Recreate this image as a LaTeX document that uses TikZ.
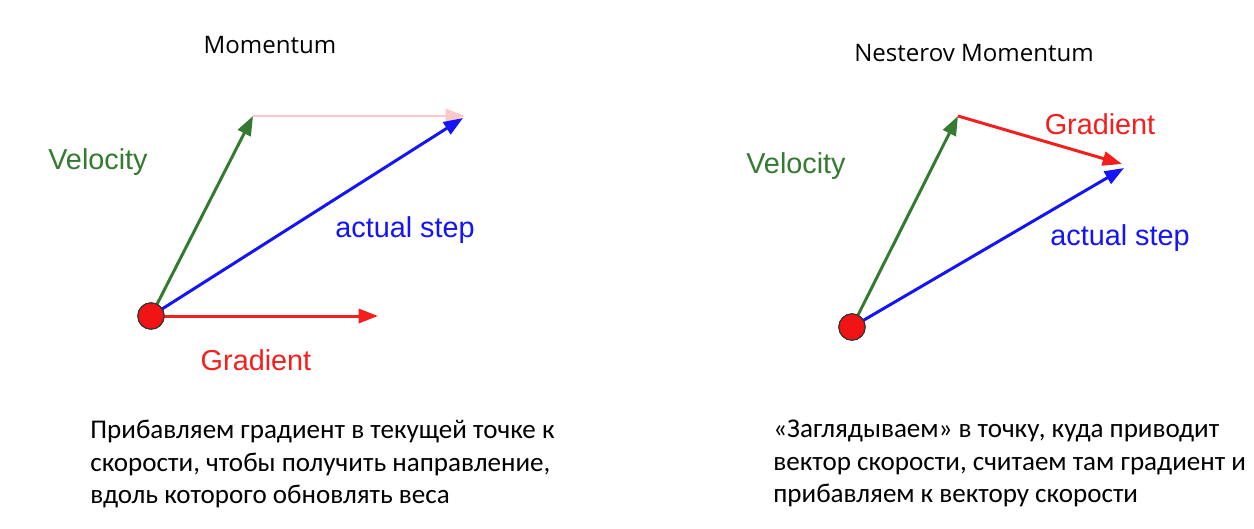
\documentclass[tikz,border=0pt]{standalone}
\usepackage{fontspec}
\setmainfont{Carlito}
\newfontfamily\labelfont{Liberation Sans}
\newfontfamily\titlefont{Open Sans}
\usetikzlibrary{arrows.meta}
\definecolor{vgreen}{RGB}{52,122,48}
\definecolor{vred}{RGB}{245,30,30}
\definecolor{vblue}{RGB}{20,20,245}
\definecolor{vpink}{RGB}{250,200,200}
\definecolor{dotred}{RGB}{240,20,20}
\tikzset{
  vec/.style={line width=1.7pt, -{Triangle[length=11pt,width=8pt]}},
  dot/.style={circle, fill=dotred, draw=black!80, line width=0.6pt, minimum size=15pt, inner sep=0pt},
  lbl/.style={font=\labelfont\fontsize{16.4}{19}\selectfont, inner sep=0pt},
  ttl/.style={font=\titlefont\fontsize{13.7}{16}\selectfont, inner sep=0pt},
  para/.style={font=\fontsize{15.4}{18.4}\selectfont, align=left, anchor=north west, inner sep=0pt},
}
\begin{document}
\begin{tikzpicture}[x=0.02cm, y=-0.02cm]
\useasboundingbox (0,0) rectangle (1254,528);
% left diagram
\node[ttl] (t1) at (270,45) {Momentum};
\coordinate (vtip) at (253,116);
\coordinate (ptip) at (465,116);
\coordinate (btip) at (463,118);
\coordinate (gtip) at (378,316);
\node[dot] (d1) at (151,316) {};
\draw[vec, vpink] (vtip) -- (ptip);
\draw[vec, vgreen] (d1.center) -- (vtip);
\draw[vec, vblue] (d1.center) -- (btip);
\draw[vec, vred] (d1.center) -- (gtip);
\node[dot] at (d1.center) {};
\node[lbl, text=vgreen] (l1) at (98,162) {Velocity};
\node[lbl, text=vblue] (l2) at (405,230) {actual step};
\node[lbl, text=vred] (l3) at (256,360) {Gradient};
\node[para] (p1) at (90,420) {Прибавляем градиент в текущей точке к\\скорости, чтобы получить направление,\\вдоль которого обновлять веса};
% right diagram
\node[ttl] (t2) at (974,53) {Nesterov Momentum};
\coordinate (nvtip) at (958,116);
\coordinate (ngtip) at (1122,164);
\coordinate (nbtip) at (1124,168);
\node[dot] (d2) at (852,327) {};
\draw[vec, vgreen] (d2.center) -- (nvtip);
\draw[vec, vred] (nvtip) -- (ngtip);
\draw[vec, vblue] (d2.center) -- (nbtip);
\node[dot] at (d2.center) {};
\node[lbl, text=vgreen] (r1) at (796,166) {Velocity};
\node[lbl, text=vred] (r2) at (1100,124) {Gradient};
\node[lbl, text=vblue] (r3) at (1120,238) {actual step};
\node[para] (p2) at (773,420) {«Заглядываем» в точку, куда приводит\\вектор скорости, считаем там градиент и\\прибавляем к вектору скорости};
\end{tikzpicture}
\end{document}
